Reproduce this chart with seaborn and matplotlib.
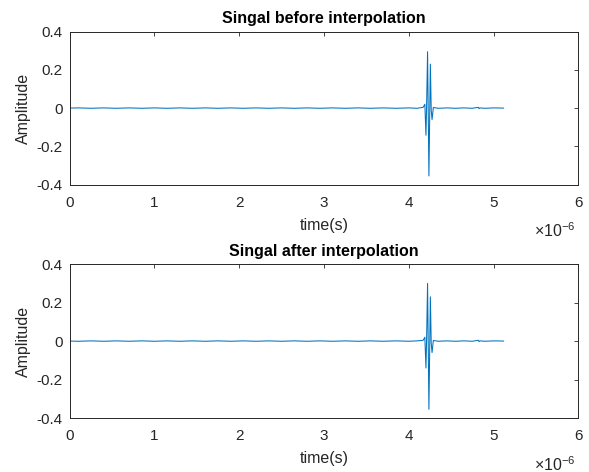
import numpy as np
import seaborn as sns
import matplotlib
matplotlib.use("Agg")
import matplotlib.pyplot as plt

# time axis in microseconds (shown with a x10^-6 multiplier)
time_us = [0.00, 0.10, 0.25, 0.40, 0.55, 0.70, 0.85, 1.00, 1.15, 1.30, 1.45,
           1.60, 1.75, 1.90, 2.05, 2.20, 2.35, 2.50, 2.65, 2.80, 2.95, 3.10,
           3.25, 3.40, 3.55, 3.70, 3.85, 4.00, 4.10, 4.17, 4.19, 4.203, 4.212,
           4.222, 4.238, 4.255, 4.265, 4.275, 4.29, 4.35, 4.45, 4.55, 4.65,
           4.75, 4.82, 4.83, 4.84, 4.90, 5.00, 5.12]

amp_before = [0.000, 0.001, -0.001, 0.001, -0.001, 0.001, -0.001, 0.001, -0.001,
              0.001, -0.001, 0.001, -0.001, 0.001, -0.001, 0.001, -0.001, 0.001,
              -0.001, 0.001, -0.001, 0.001, -0.001, 0.001, -0.001, 0.001, -0.001,
              0.001, -0.001, 0.004, 0.020, -0.142, 0.040, 0.295, -0.355, 0.230,
              -0.010, -0.060, 0.003, -0.001, 0.001, -0.001, 0.001, -0.001, 0.004,
              -0.003, 0.001, -0.001, 0.001, 0.000]

amp_after = [0.000, -0.001, 0.001, -0.001, 0.001, -0.001, 0.001, -0.001, 0.001,
             -0.001, 0.001, -0.001, 0.001, -0.001, 0.001, -0.001, 0.001, -0.001,
             0.001, -0.001, 0.001, -0.001, 0.001, -0.001, 0.001, -0.001, 0.001,
             -0.001, 0.001, 0.004, 0.020, -0.140, 0.040, 0.300, -0.355, 0.230,
             -0.010, -0.060, 0.003, -0.001, 0.001, -0.001, 0.001, -0.001, 0.004,
             -0.003, 0.001, -0.001, 0.001, 0.000]

titles = ["Singal before interpolation", "Singal after interpolation"]
x_ticks = [0, 1, 2, 3, 4, 5, 6]
y_ticks = [-0.4, -0.2, 0, 0.2, 0.4]
y_ticklabels = ["-0.4", "-0.2", "0", "0.2", "0.4"]

sns.set_theme(style="white")
plt.rcParams['font.family'] = ['Liberation Sans', 'DejaVu Sans']
plt.rcParams['mathtext.fontset'] = 'custom'
plt.rcParams['mathtext.rm'] = 'Liberation Sans'
plt.rcParams['mathtext.it'] = 'Liberation Sans'

AX_COL = '#262626'
LINE_COL = '#0072BD'

fig = plt.figure(figsize=(5.89, 4.72), dpi=100)
ax1 = fig.add_axes([0.1183, 0.609, 0.8635, 0.324])
ax2 = fig.add_axes([0.1183, 0.1144, 0.8635, 0.326])

for ax, amp, title in zip([ax1, ax2], [amp_before, amp_after], titles):
    sns.lineplot(x=time_us, y=amp, ax=ax, color=LINE_COL, linewidth=0.75,
                 estimator=None, sort=False)
    ax.set_xlim(0, 6)
    ax.set_ylim(-0.4, 0.4)
    ax.set_xticks(x_ticks)
    ax.set_xticklabels([str(t) for t in x_ticks])
    ax.set_yticks(y_ticks)
    ax.set_yticklabels(y_ticklabels)
    ax.tick_params(direction='in', length=3, width=0.6, top=True, right=True,
                   colors=AX_COL, labelsize=11)
    ax.tick_params(axis='x', pad=8)
    ax.tick_params(axis='y', pad=5)
    for s in ax.spines.values():
        s.set_color(AX_COL)
        s.set_linewidth(0.7)
    ax.set_title(title, fontsize=11.5, fontweight='bold', color='black', pad=6)
    ax.set_xlabel('time(s)', fontsize=11.5, color=AX_COL, labelpad=6)
    ax.set_ylabel('Amplitude', fontsize=11.5, color=AX_COL, labelpad=4)
    ax.text(0.995, -0.30, r'$\times10^{-6}$', transform=ax.transAxes,
            ha='right', va='center', fontsize=11.5, color=AX_COL)

fig.savefig('out.png', dpi=100)
